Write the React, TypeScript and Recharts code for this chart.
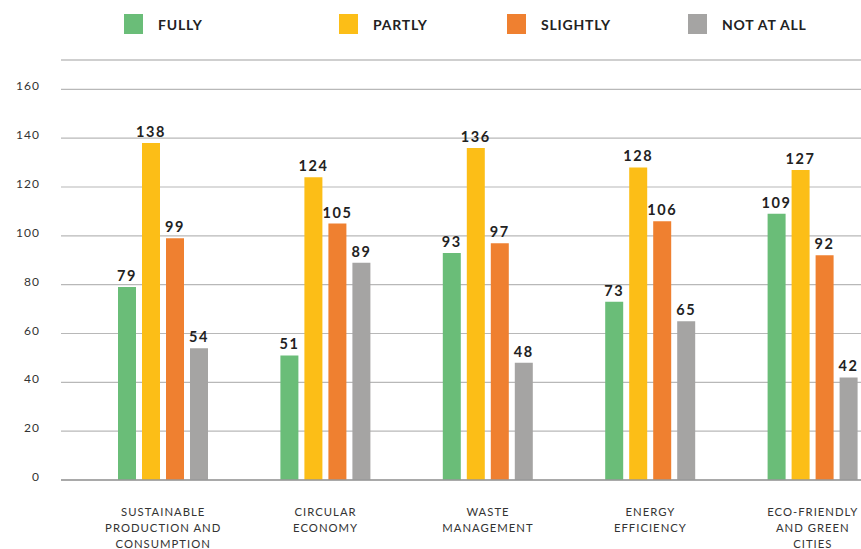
import React from "react";
import { BarChart, Bar, XAxis, YAxis, CartesianGrid, ReferenceLine, LabelList } from "recharts";

const categories = [
  "SUSTAINABLE\nPRODUCTION AND\nCONSUMPTION",
  "CIRCULAR\nECONOMY",
  "WASTE\nMANAGEMENT",
  "ENERGY\nEFFICIENCY",
  "ECO-FRIENDLY\nAND GREEN\nCITIES",
];
const fully = [79, 51, 93, 73, 109];
const partly = [138, 124, 136, 128, 127];
const slightly = [99, 105, 97, 106, 92];
const notAtAll = [54, 89, 48, 65, 42];
const yTicks = [0, 20, 40, 60, 80, 100, 120, 140, 160];
const yMax = 172;

const seriesDefs = [
  { key: "fully", name: "FULLY", color: "#6abd78" },
  { key: "partly", name: "PARTLY", color: "#fcbe17" },
  { key: "slightly", name: "SLIGHTLY", color: "#ef8030" },
  { key: "notAtAll", name: "NOT AT ALL", color: "#a5a4a3" },
];

const data = categories.map((c, i) => ({
  category: c,
  fully: fully[i],
  partly: partly[i],
  slightly: slightly[i],
  notAtAll: notAtAll[i],
}));

const FONT = "Lato, 'Noto Sans', sans-serif";

const XTick = (props: any) => {
  const { x, y, payload } = props;
  const lines = String(payload.value).split("\n");
  return (
    <g transform={`translate(${x},${y})`}>
      <text textAnchor="middle" fill="#333" fontSize={11.3} fontFamily={FONT} style={{ letterSpacing: 1 }}>
        {lines.map((l: string, i: number) => (
          <tspan key={i} x={0} y={28 + i * 16}>
            {l}
          </tspan>
        ))}
      </text>
    </g>
  );
};

const YTick = (props: any) => {
  const { x, y, payload } = props;
  return (
    <text x={x} y={y} dy={-2} textAnchor="end" dominantBaseline="middle" fill="#333" fontSize={12} fontFamily={FONT} style={{ letterSpacing: 1 }}>
      {payload.value}
    </text>
  );
};

const legendLefts = [124, 339, 507, 688];

export default function App() {
  return (
    <div style={{ position: "absolute", left: 0, top: 0, width: 861, height: 549, overflow: "hidden", background: "#fff" }}>
      <div style={{ position: "absolute", top: 0, left: 0, width: 861, height: 50 }}>
        {seriesDefs.map((s, i) => (
          <div
            key={s.key}
            style={{
              position: "absolute",
              left: legendLefts[i],
              top: 14,
              display: "flex",
              alignItems: "center",
              fontFamily: FONT,
              fontWeight: 700,
              fontSize: 14,
              letterSpacing: 0.8,
              color: "#222",
            }}
          >
            <div style={{ width: 19, height: 20, background: s.color, marginRight: 15 }} />
            <span>{s.name}</span>
          </div>
        ))}
      </div>
      <BarChart
        width={894}
        height={549}
        data={data}
        margin={{ top: 60, right: 0, left: 0, bottom: 0 }}
        barSize={18}
        barGap={6}
      >
        <CartesianGrid vertical={false} stroke="#b8b8b8" strokeWidth={1.2} />
        <ReferenceLine y={yMax} stroke="#c4c4c4" strokeWidth={1.2} />
        <XAxis
          dataKey="category"
          height={69}
          axisLine={{ stroke: "#999", strokeWidth: 1.5 }}
          tickLine={false}
          tick={<XTick />}
          interval={0}
          padding={{ left: 21, right: 0 }}
        />
        <YAxis
          width={61}
          domain={[0, yMax]}
          ticks={yTicks}
          axisLine={false}
          tickLine={false}
          tickSize={0}
          tickMargin={21}
          tick={<YTick />}
        />
        {seriesDefs.map((s) => (
          <Bar key={s.key} dataKey={s.key} name={s.name} fill={s.color} isAnimationActive={false}>
            <LabelList
              dataKey={s.key}
              position="top"
              offset={6}
              fill="#222"
              fontSize={14.5}
              fontWeight={700}
              fontFamily={FONT}
              style={{ letterSpacing: 1.6 }}
            />
          </Bar>
        ))}
      </BarChart>
    </div>
  );
}
